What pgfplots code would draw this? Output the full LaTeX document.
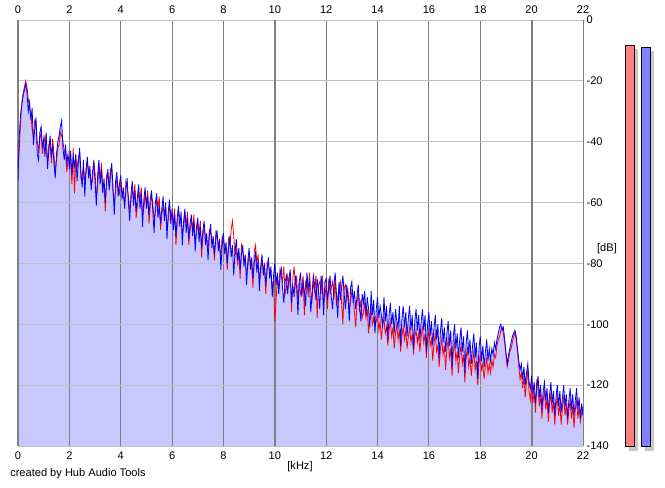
\documentclass[border=0pt]{standalone}
\usepackage{pgfplots}
\pgfplotsset{compat=1.18}
\usepgfplotslibrary{fillbetween}
\usepackage{pgfplotstable}
\usepackage{fontspec}
\setmainfont{Liberation Sans}
\definecolor{lav}{RGB}{200,200,255}
\definecolor{gridv}{RGB}{128,128,128}
\definecolor{gridh}{RGB}{192,192,192}
\definecolor{mred}{RGB}{255,128,128}
\definecolor{mblue}{RGB}{128,128,255}
\definecolor{shad}{RGB}{200,200,200}
\pgfplotstableread{
x b r
0.00 -53 -49
0.05 -38 -42
0.10 -31 -34
0.15 -28 -27
0.20 -25 -24
0.25 -23 -22
0.30 -21 -20
0.35 -24 -22
0.40 -30 -26
0.45 -27 -29
0.50 -33 -31
0.55 -29 -36
0.60 -41 -38
0.65 -36 -33
0.70 -32 -34
0.75 -44 -40
0.80 -46 -43
0.85 -37 -39
0.90 -35 -37
0.95 -42 -44
1.00 -39 -41
1.05 -45 -38
1.10 -37 -43
1.15 -49 -46
1.20 -43 -41
1.25 -38 -40
1.30 -45 -47
1.35 -41 -39
1.40 -47 -44
1.45 -52 -50
1.50 -44 -46
1.55 -40 -42
1.60 -38 -41
1.65 -35 -37
1.70 -33 -38
1.75 -42 -40
1.80 -46 -43
1.85 -41 -44
1.90 -47 -50
1.95 -44 -46
2.00 -49 -45
2.05 -43 -47
2.10 -51 -54
2.15 -45 -42
2.20 -48 -57
2.25 -44 -46
2.30 -53 -49
2.35 -47 -45
2.40 -42 -44
2.45 -50 -52
2.50 -55 -51
2.55 -46 -48
2.60 -58 -53
2.65 -49 -50
2.70 -45 -47
2.75 -52 -49
2.80 -48 -51
2.85 -56 -54
2.90 -50 -53
2.95 -47 -46
3.00 -53 -50
3.05 -61 -58
3.10 -51 -55
3.15 -46 -48
3.20 -54 -52
3.25 -49 -47
3.30 -57 -55
3.35 -52 -54
3.40 -60 -63
3.45 -53 -51
3.50 -49 -52
3.55 -56 -54
3.60 -51 -49
3.65 -47 -50
3.70 -55 -57
3.75 -64 -60
3.80 -53 -56
3.85 -50 -52
3.90 -58 -55
3.95 -54 -57
4.00 -51 -53
4.05 -59 -56
4.10 -55 -58
4.15 -62 -60
4.20 -56 -53
4.25 -52 -55
4.30 -60 -58
4.35 -66 -63
4.40 -57 -59
4.45 -53 -56
4.50 -61 -58
4.55 -56 -54
4.60 -63 -65
4.65 -58 -61
4.70 -54 -57
4.75 -62 -59
4.80 -57 -55
4.85 -68 -64
4.90 -59 -62
4.95 -55 -57
5.00 -62 -60
5.05 -58 -56
5.10 -64 -67
5.15 -59 -61
5.20 -56 -58
5.25 -63 -60
5.30 -70 -66
5.35 -60 -63
5.40 -57 -59
5.45 -65 -62
5.50 -61 -58
5.55 -67 -69
5.60 -62 -64
5.65 -58 -61
5.70 -66 -63
5.75 -60 -62
5.80 -72 -68
5.85 -63 -66
5.90 -59 -61
5.95 -67 -64
6.00 -62 -65
6.05 -69 -66
6.10 -64 -62
6.15 -71 -74
6.20 -65 -67
6.25 -61 -63
6.30 -68 -65
6.35 -63 -66
6.40 -74 -70
6.45 -66 -68
6.50 -62 -64
6.55 -70 -67
6.60 -65 -63
6.65 -72 -74
6.70 -67 -69
6.75 -64 -66
6.80 -71 -68
6.85 -66 -64
6.90 -76 -73
6.95 -68 -70
7.00 -65 -67
7.05 -73 -70
7.10 -68 -66
7.15 -75 -78
7.20 -69 -71
7.25 -66 -68
7.30 -74 -71
7.35 -70 -73
7.40 -79 -76
7.45 -71 -69
7.50 -67 -70
7.55 -75 -72
7.60 -71 -74
7.65 -77 -79
7.70 -72 -70
7.75 -69 -72
7.80 -76 -73
7.85 -72 -75
7.90 -82 -78
7.95 -74 -71
8.00 -70 -73
8.05 -77 -74
8.10 -73 -76
8.15 -80 -82
8.20 -75 -72
8.25 -71 -74
8.30 -78 -69
8.35 -74 -66
8.40 -84 -71
8.45 -76 -78
8.50 -72 -75
8.55 -79 -80
8.60 -75 -77
8.65 -82 -85
8.70 -77 -74
8.75 -74 -76
8.80 -81 -78
8.85 -77 -80
8.90 -87 -83
8.95 -79 -81
9.00 -75 -77
9.05 -82 -79
9.10 -78 -81
9.15 -85 -88
9.20 -80 -76
9.25 -76 -74
9.30 -83 -80
9.35 -79 -77
9.40 -89 -85
9.45 -81 -83
9.50 -77 -79
9.55 -84 -81
9.60 -80 -83
9.65 -87 -90
9.70 -82 -80
9.75 -78 -81
9.80 -85 -82
9.85 -81 -84
9.90 -91 -88
9.95 -84 -86
10.00 -80 -99
10.05 -87 -92
10.10 -83 -85
10.15 -90 -88
10.20 -85 -82
10.25 -81 -84
10.30 -88 -86
10.35 -93 -81
10.40 -86 -90
10.45 -84 -88
10.50 -90 -84
10.55 -85 -87
10.60 -82 -83
10.65 -93 -96
10.70 -87 -85
10.75 -91 -81
10.80 -84 -87
10.85 -88 -84
10.90 -97 -93
10.95 -86 -86
11.00 -83 -90
11.05 -91 -88
11.10 -86 -84
11.15 -89 -97
11.20 -94 -86
11.25 -83 -85
11.30 -88 -91
11.35 -86 -83
11.40 -96 -89
11.45 -90 -92
11.50 -84 -86
11.55 -87 -89
11.60 -92 -84
11.65 -85 -98
11.70 -89 -87
11.75 -95 -86
11.80 -84 -90
11.85 -88 -84
11.90 -97 -93
11.95 -86 -91
12.00 -85 -87
12.05 -92 -95
12.10 -88 -85
12.15 -84 -90
12.20 -91 -88
12.25 -95 -86
12.30 -87 -92
12.35 -83 -85
12.40 -90 -94
12.45 -98 -91
12.50 -86 -88
12.55 -92 -86
12.60 -88 -93
12.65 -84 -100
12.70 -90 -88
12.75 -95 -87
12.80 -87 -92
12.85 -91 -89
12.90 -99 -95
12.95 -88 -93
13.00 -86 -89
13.05 -93 -91
13.10 -89 -96
13.15 -95 -101
13.20 -91 -93
13.25 -87 -90
13.30 -94 -96
13.35 -99 -92
13.40 -90 -98
13.45 -93 -96
13.50 -89 -93
13.55 -97 -98
13.60 -91 -95
13.65 -95 -103
13.70 -101 -97
13.75 -89 -95
13.80 -97 -100
13.85 -92 -98
13.90 -103 -101
13.95 -95 -99
14.00 -91 -97
14.05 -98 -102
14.10 -94 -99
14.15 -97 -105
14.20 -101 -100
14.25 -91 -98
14.30 -99 -103
14.35 -94 -101
14.40 -105 -107
14.45 -97 -102
14.50 -93 -99
14.55 -100 -104
14.60 -96 -101
14.65 -103 -108
14.70 -95 -103
14.75 -99 -100
14.80 -101 -105
14.85 -94 -102
14.90 -107 -109
14.95 -98 -104
15.00 -94 -101
15.05 -101 -105
15.10 -96 -102
15.15 -104 -108
15.20 -98 -104
15.25 -94 -101
15.30 -102 -106
15.35 -97 -103
15.40 -108 -110
15.45 -99 -104
15.50 -95 -102
15.55 -102 -106
15.60 -97 -103
15.65 -105 -109
15.70 -99 -104
15.75 -95 -101
15.80 -102 -106
15.85 -97 -103
15.90 -109 -111
15.95 -100 -105
16.00 -96 -102
16.05 -104 -107
16.10 -99 -105
16.15 -107 -112
16.20 -101 -106
16.25 -97 -103
16.30 -105 -109
16.35 -100 -107
16.40 -111 -114
16.45 -102 -108
16.50 -98 -105
16.55 -106 -110
16.60 -101 -107
16.65 -109 -115
16.70 -103 -108
16.75 -99 -105
16.80 -107 -111
16.85 -102 -108
16.90 -114 -117
16.95 -104 -109
17.00 -100 -106
17.05 -108 -112
17.10 -103 -109
17.15 -111 -116
17.20 -105 -110
17.25 -101 -107
17.30 -109 -113
17.35 -104 -110
17.40 -116 -119
17.45 -106 -111
17.50 -102 -108
17.55 -110 -114
17.60 -105 -111
17.65 -113 -117
17.70 -107 -112
17.75 -103 -109
17.80 -111 -115
17.85 -106 -112
17.90 -118 -120
17.95 -108 -113
18.00 -104 -110
18.05 -112 -115
18.10 -107 -113
18.15 -114 -118
18.20 -109 -114
18.25 -105 -111
18.30 -112 -116
18.35 -108 -113
18.40 -112 -116
18.45 -108 -112
18.50 -110 -114
18.55 -106 -110
18.60 -108 -111
18.65 -105 -107
18.70 -103 -105
18.75 -101 -104
18.80 -100 -102
18.85 -102 -101
18.90 -101 -103
18.95 -105 -106
19.00 -109 -110
19.05 -113 -114
19.10 -110 -112
19.15 -108 -109
19.20 -106 -108
19.25 -104 -106
19.30 -103 -104
19.35 -102 -103
19.40 -104 -105
19.45 -108 -109
19.50 -112 -114
19.55 -115 -118
19.60 -113 -116
19.65 -118 -121
19.70 -114 -117
19.75 -120 -124
19.80 -116 -119
19.85 -113 -115
19.90 -119 -122
19.95 -121 -125
20.00 -117 -120
20.05 -123 -126
20.10 -119 -122
20.15 -126 -129
20.20 -121 -118
20.25 -117 -121
20.30 -124 -127
20.35 -120 -123
20.40 -128 -131
20.45 -122 -125
20.50 -119 -122
20.55 -125 -128
20.60 -121 -124
20.65 -129 -132
20.70 -123 -126
20.75 -119 -123
20.80 -126 -129
20.85 -122 -125
20.90 -130 -133
20.95 -124 -127
21.00 -120 -124
21.05 -127 -130
21.10 -122 -126
21.15 -129 -133
21.20 -124 -127
21.25 -120 -124
21.30 -127 -130
21.35 -123 -126
21.40 -131 -133
21.45 -125 -128
21.50 -121 -125
21.55 -128 -131
21.60 -123 -127
21.65 -130 -134
21.70 -125 -128
21.75 -121 -125
21.80 -128 -131
21.85 -124 -127
21.90 -131 -132
21.95 -126 -129
22.00 -130 -127
}\data
\begin{document}
\begin{tikzpicture}
\begin{axis}[
  at={(0pt,0pt)}, anchor=south west,
  scale only axis, width=423.75pt, height=319.5pt,
  xmin=0, xmax=22, ymin=-140, ymax=0,
  set layers,
  xtick={0,2,...,22}, ytick={-140,-120,...,0},
  yticklabels={-140,-120,-100,-80,-60,-40,-20,0},
  xticklabels={0,2,4,6,8,10,12,14,16,18,20,22},
  xmajorgrids, ymajorgrids,
  major x grid style={draw=gridv, line width=0.75pt},
  major y grid style={draw=gridh, line width=0.75pt},
  axis line style={draw=none}, tick style={draw=none},
  major tick length=0pt,
  yticklabel pos=right,
  ticklabel style={font=\fontsize{8.3}{10}\selectfont, text=black},
  xticklabel style={anchor=center, yshift=-7.5pt},
  yticklabel style={anchor=west, inner sep=0pt, xshift=2.5pt},
]
\addplot[name path=B, draw=none, forget plot] table[x=x,y=b]{\data};
\addplot[name path=Z, draw=none, forget plot] coordinates {(0,-140) (22,-140)};
\addplot[fill=lav, draw=none, forget plot] fill between[of=B and Z, on layer=axis background];
\begin{pgfonlayer}{axis grid}
\draw[gridv, line width=1.6pt] (axis cs:0,-140) -- (axis cs:0,0);
\draw[gridv, line width=1.6pt] (axis cs:10,-140) -- (axis cs:10,0);
\draw[gridv, line width=1.6pt] (axis cs:20,-140) -- (axis cs:20,0);
\end{pgfonlayer}
\addplot[red, line width=0.6pt, mark=none] table[x=x,y=r]{\data};
\addplot[blue, line width=0.6pt, mark=none] table[x=x,y=b]{\data};
\end{axis}
\begin{scope}[x=0.75pt,y=0.75pt, font=\fontsize{8.3}{10}\selectfont]
\foreach \k [count=\i from 0] in {0,2,...,22} {
  \node[anchor=center] at ({\i*565/11}, 436) {\k};
}
\fill[shad] (611,-5) rectangle (620,397);
\fill[shad] (627,-5) rectangle (636,395);
\filldraw[fill=mred, draw=black, line width=0.75pt] (607,0) rectangle (616,401);
\filldraw[fill=mblue, draw=black, line width=0.75pt] (623,0) rectangle (632,399);
\node at (589,197) {[dB]};
\node at (282,-21) {[kHz]};
\node[anchor=west, inner sep=0pt] at (-8,-28) {created by Hub Audio Tools};
\end{scope}
\pgfresetboundingbox
\useasboundingbox (-13.5pt,-30.75pt) rectangle (485.25pt,334.5pt);
\end{tikzpicture}
\end{document}
